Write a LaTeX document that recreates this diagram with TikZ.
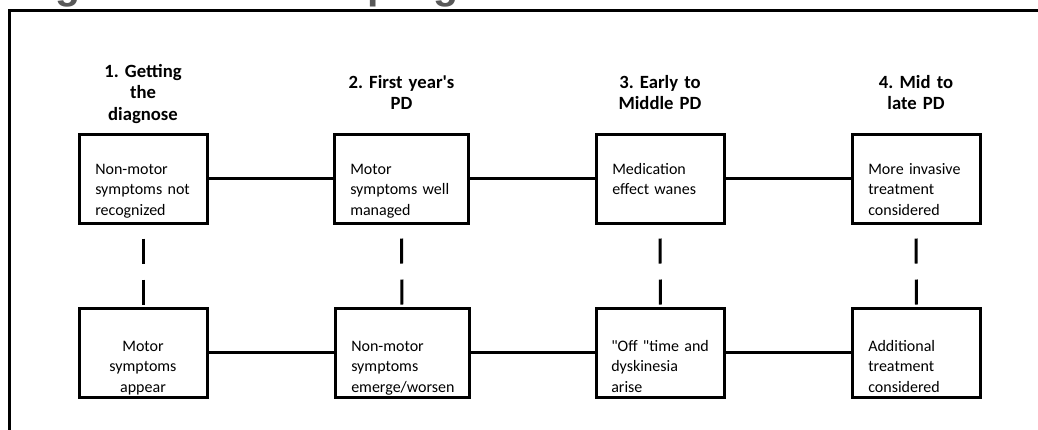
\documentclass[tikz,border=0pt]{standalone}
\usepackage{fontspec}
\newfontfamily\cf{Carlito}
\newfontfamily\tf{Liberation Sans}
\definecolor{titlegray}{RGB}{89,89,89}
\frenchspacing
\begin{document}
\begin{tikzpicture}[x=0.75pt,y=-0.75pt,
  box/.style={draw, line width=2.25pt, rectangle, minimum width=96pt, minimum height=66.75pt, inner sep=0pt},
  widebox/.style={box, minimum width=100.5pt},
  body/.style={font=\cf\frenchspacing\fontsize{12pt}{15.4pt}\selectfont, align=left, anchor=base west, inner sep=0pt, text width=95pt},
  bodyc/.style={font=\cf\frenchspacing\fontsize{12pt}{15.4pt}\selectfont, align=center, anchor=base, inner sep=0pt, text width=95pt},
  head/.style={font=\cf\frenchspacing\bfseries\fontsize{14pt}{16.2pt}\selectfont, align=center, anchor=base, inner sep=0pt, text width=100pt},
  conn/.style={line width=2.25pt},
  dashconn/.style={line width=2.25pt, dash pattern=on 18.75pt off 12pt, dash phase=20.25pt},
  titlestyle/.style={font=\tf\frenchspacing\bfseries\fontsize{30.75pt}{34pt}\selectfont, text=titlegray, anchor=base west, inner sep=0pt}]
\useasboundingbox (0,0) rectangle (1038,429);
\clip (0,0) rectangle (1038,429);
\node[titlestyle] (ttl) at (18.5,-2) {Figure 1. Disease progression};
% frame
\draw[line width=2.25pt] (9.5,440) -- (9.5,10.5) -- (1050,10.5);
% headers
\node[head] (h1) at (143,77) {1. Getting\\the\\diagnose};
\node[head] (h2) at (401.5,88) {2. First year's\\PD};
\node[head] (h3) at (660,88) {3. Early to\\Middle PD};
\node[head] (h4) at (916,88) {4. Mid to\\late PD};
% boxes
\node[box] (b1) at (143,178.5) {};
\node[widebox] (b2) at (401.5,178.5) {};
\node[box] (b3) at (660,178.5) {};
\node[box] (b4) at (916,178.5) {};
\node[box] (b5) at (143,352.5) {};
\node[widebox] (b6) at (402,352.5) {};
\node[box] (b7) at (660.5,352.5) {};
\node[box] (b8) at (916.5,352.5) {};
% texts
\node[body] (t1) at (95,174) {Non-motor\\symptoms not\\recognized};
\node[body] (t2) at (350,174) {Motor\\symptoms well\\managed};
\node[body] (t3) at (612,174) {Medication\\effect wanes};
\node[body] (t4) at (868,174) {More invasive\\treatment\\considered};
\node[bodyc] (t5) at (143,351) {Motor\\symptoms\\appear};
\node[body] (t6) at (351,351) {Non-motor\\symptoms\\emerge/worsen};
\node[body] (t7) at (611,351) {"Off "time and\\dyskinesia\\arise};
\node[body] (t8) at (868,351) {Additional\\treatment\\considered};
% connectors
\draw[conn] (b1.east) -- (b2.west);
\draw[conn] (b2.east) -- (b3.west);
\draw[conn] (b3.east) -- (b4.west);
\draw[conn] (b5.east) -- (b6.west);
\draw[conn] (b6.east) -- (b7.west);
\draw[conn] (b7.east) -- (b8.west);
\draw[dashconn] (b1.south) -- (b5.north);
\draw[dashconn] (b2.south) -- (b6.north);
\draw[dashconn] (b3.south) -- (b7.north);
\draw[dashconn] (b4.south) -- (b8.north);
\end{tikzpicture}
\end{document}
